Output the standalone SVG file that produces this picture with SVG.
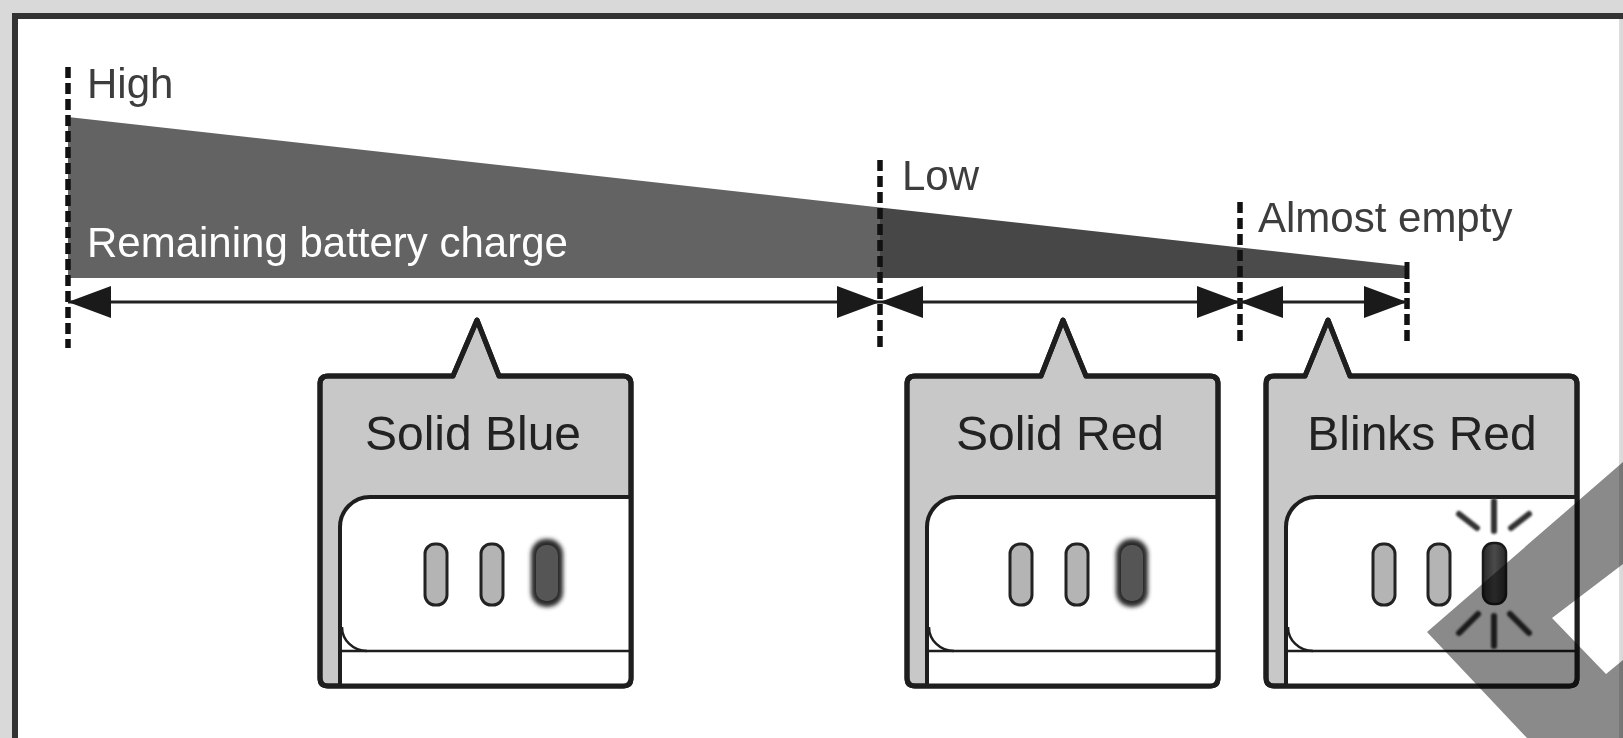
<svg xmlns="http://www.w3.org/2000/svg" width="1623" height="738" viewBox="0 0 1623 738">
<defs>
<style>
.lbl{font-family:"Liberation Sans",Arial,sans-serif;font-size:42px;fill:#3d3d3d}
.ttl{font-family:"Liberation Sans",Arial,sans-serif;font-size:48px;fill:#222;text-anchor:middle}
.dash{stroke:#111;stroke-width:5.5;stroke-dasharray:11 5;fill:none}
.box{fill:#c8c8c8;stroke:#1e1e1e;stroke-width:5;stroke-linejoin:round}
.boxo{fill:none;stroke:#1e1e1e;stroke-width:5;stroke-linejoin:round}
.panel{fill:#fff}
.pedge{fill:none;stroke:#1e1e1e;stroke-width:4}
.thin{fill:none;stroke:#1e1e1e;stroke-width:2.5}
.pill{fill:#b4b4b4;stroke:#222;stroke-width:3}
.head{fill:#1a1a1a}
.ray{stroke:#333;stroke-width:6;stroke-linecap:round}
</style>
<filter id="blur" x="-50%" y="-50%" width="200%" height="200%"><feGaussianBlur stdDeviation="2.2"/></filter>
<filter id="blur1" x="-50%" y="-50%" width="200%" height="200%"><feGaussianBlur stdDeviation="0.8"/></filter>
<linearGradient id="lg" x1="0" y1="0" x2="1" y2="0"><stop offset="0" stop-color="#2a2a2a"/><stop offset="0.5" stop-color="#4a4a4a"/><stop offset="1" stop-color="#2a2a2a"/></linearGradient>
</defs>
<rect x="0" y="0" width="1623" height="738" fill="#d9d9d9"/>
<rect x="15" y="16" width="1605" height="740" fill="#fff"/>
<line x1="15" y1="16" x2="1623" y2="16" stroke="#333" stroke-width="6"/>
<line x1="15" y1="13" x2="15" y2="738" stroke="#333" stroke-width="6"/>
<line x1="1620" y1="19" x2="1620" y2="738" stroke="#dcdcdc" stroke-width="2"/>

<g id="wedge">
<polygon points="68,117 880,207.4 880,278 68,278" fill="#636363"/>
<polygon points="880,207.4 1240,247.4 1240,278 880,278" fill="#474747"/>
<polygon points="1240,247.4 1407,266 1407,278 1240,278" fill="#4b4b4b"/>
<line x1="1407" y1="262" x2="1407" y2="279" stroke="#111" stroke-width="5"/>
</g>

<g id="labels">
<text class="lbl" x="87" y="98">High</text>
<text class="lbl" x="87" y="257" style="fill:#fff">Remaining battery charge</text>
<text class="lbl" x="902" y="190">Low</text>
<text class="lbl" x="1258" y="232">Almost empty</text>
</g>

<g id="connectors">
<line class="dash" x1="68" y1="67" x2="68" y2="348"/>
<line class="dash" x1="880" y1="160" x2="880" y2="352"/>
<line class="dash" x1="1240" y1="202" x2="1240" y2="346"/>
<line class="dash" x1="1407" y1="282" x2="1407" y2="346"/>
<line x1="68" y1="302" x2="1407" y2="302" stroke="#222" stroke-width="3"/>
<polygon class="head" points="68,302 111,286 111,318"/>
<polygon class="head" points="880,302 837,286 837,318"/>
<polygon class="head" points="880,302 923,286 923,318"/>
<polygon class="head" points="1240,302 1197,286 1197,318"/>
<polygon class="head" points="1240,302 1283,286 1283,318"/>
<polygon class="head" points="1407,302 1364,286 1364,318"/>
</g>

<g id="solid-blue">
<path class="box" d="M328,376 L453,376 L477,320 L499,376 L623,376 Q631,376 631,384 L631,678 Q631,686 623,686 L328,686 Q320,686 320,678 L320,384 Q320,376 328,376 Z"/>
<path class="panel" d="M340,686 L340,527 Q340,497 370,497 L631,497 L631,686 Z"/>
<path class="pedge" d="M631,497 L370,497 A30,30 0 0 0 340,527 L340,686"/>
<line class="thin" x1="340" y1="651" x2="631" y2="651"/>
<path class="thin" d="M342,627 A25,24 0 0 0 367,651"/>
<path class="boxo" d="M328,376 L453,376 L477,320 L499,376 L623,376 Q631,376 631,384 L631,678 Q631,686 623,686 L328,686 Q320,686 320,678 L320,384 Q320,376 328,376 Z"/>
<text class="ttl" x="473" y="450">Solid Blue</text>
<rect class="pill" x="425" y="544" width="22" height="61" rx="10"/>
<rect class="pill" x="481" y="544" width="22" height="61" rx="10"/>
<rect x="531" y="539" width="32" height="68" rx="15" fill="#2a2a2a" filter="url(#blur)"/>
<rect x="536" y="545" width="22" height="56" rx="10" fill="#555"/>
</g>

<g id="solid-red">
<path class="box" d="M915,376 L1041,376 L1063,320 L1086,376 L1210,376 Q1218,376 1218,384 L1218,678 Q1218,686 1210,686 L915,686 Q907,686 907,678 L907,384 Q907,376 915,376 Z"/>
<path class="panel" d="M927,686 L927,527 Q927,497 957,497 L1218,497 L1218,686 Z"/>
<path class="pedge" d="M1218,497 L957,497 A30,30 0 0 0 927,527 L927,686"/>
<line class="thin" x1="927" y1="651" x2="1218" y2="651"/>
<path class="thin" d="M929,627 A25,24 0 0 0 954,651"/>
<path class="boxo" d="M915,376 L1041,376 L1063,320 L1086,376 L1210,376 Q1218,376 1218,384 L1218,678 Q1218,686 1210,686 L915,686 Q907,686 907,678 L907,384 Q907,376 915,376 Z"/>
<text class="ttl" x="1060" y="450">Solid Red</text>
<rect class="pill" x="1010" y="544" width="22" height="61" rx="10"/>
<rect class="pill" x="1066" y="544" width="22" height="61" rx="10"/>
<rect x="1116" y="539" width="32" height="68" rx="15" fill="#2a2a2a" filter="url(#blur)"/>
<rect x="1121" y="545" width="22" height="56" rx="10" fill="#555"/>
</g>

<g id="blinks-red">
<path class="box" d="M1274,376 L1305,376 L1328,320 L1350,376 L1569,376 Q1577,376 1577,384 L1577,678 Q1577,686 1569,686 L1274,686 Q1266,686 1266,678 L1266,384 Q1266,376 1274,376 Z"/>
<path class="panel" d="M1286,686 L1286,527 Q1286,497 1316,497 L1577,497 L1577,686 Z"/>
<path class="pedge" d="M1577,497 L1316,497 A30,30 0 0 0 1286,527 L1286,686"/>
<line class="thin" x1="1286" y1="651" x2="1577" y2="651"/>
<path class="thin" d="M1288,627 A25,24 0 0 0 1313,651"/>
<path class="boxo" d="M1274,376 L1305,376 L1328,320 L1350,376 L1569,376 Q1577,376 1577,384 L1577,678 Q1577,686 1569,686 L1274,686 Q1266,686 1266,678 L1266,384 Q1266,376 1274,376 Z"/>
<text class="ttl" x="1422" y="450">Blinks Red</text>
<rect class="pill" x="1373" y="544" width="22" height="61" rx="10"/>
<rect class="pill" x="1428" y="544" width="22" height="61" rx="10"/>
<rect x="1483" y="543" width="23" height="61" rx="10" fill="url(#lg)" stroke="#1a1a1a" stroke-width="2.5"/>
<g filter="url(#blur1)">
<line class="ray" x1="1494" y1="501" x2="1494" y2="531"/>
<line class="ray" x1="1459" y1="514" x2="1477" y2="528"/>
<line class="ray" x1="1529" y1="514" x2="1511" y2="528"/>
<line class="ray" x1="1494" y1="616" x2="1494" y2="646"/>
<line class="ray" x1="1459" y1="633" x2="1478" y2="614"/>
<line class="ray" x1="1529" y1="633" x2="1510" y2="614"/>
</g>
</g>

<path d="M1427,632 L1623,462 L1623,738 L1527,738 Z M1552,618 L1623,564 L1623,660 L1606,674 Z" fill="#8a8a8a" fill-rule="evenodd" style="mix-blend-mode:multiply"/>
</svg>
